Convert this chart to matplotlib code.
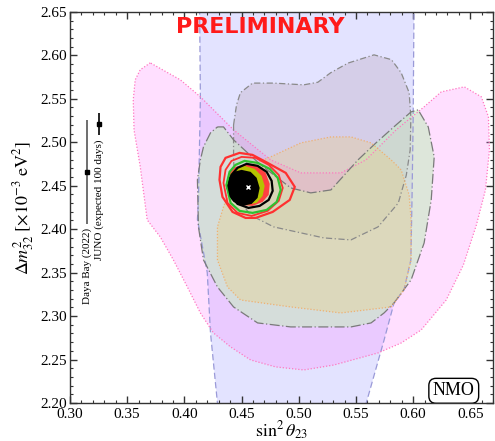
import matplotlib
matplotlib.use("Agg")
import matplotlib.pyplot as plt
from matplotlib.patches import Polygon
from matplotlib.ticker import MultipleLocator, FormatStrFormatter

plt.rcParams['font.family'] = ['Liberation Serif', 'DejaVu Serif']
plt.rcParams['mathtext.fontset'] = 'stix'

# allowed regions (sin^2 theta23, dm2_32)
blueX = [0.413, 0.414, 0.4123, 0.4114, 0.420, 0.4228, 0.4289, 0.430,
         0.557, 0.559, 0.5746, 0.5833, 0.592, 0.598, 0.599, 0.600, 0.601]
blueY = [2.70, 2.55, 2.434, 2.411, 2.35, 2.281, 2.200, 2.17,
         2.17, 2.200, 2.2725, 2.3151, 2.330, 2.3646, 2.434, 2.525, 2.70]

pinkX = [0.3702, 0.3614, 0.3570, 0.3553, 0.3560, 0.3614, 0.3675, 0.3789, 0.3904,
         0.4026, 0.4140, 0.4254, 0.4404, 0.4579, 0.4798, 0.5044, 0.5307, 0.5693,
         0.5895, 0.6070, 0.6289, 0.6439, 0.6553, 0.6632, 0.6667, 0.6658, 0.6596,
         0.6447, 0.6246, 0.6096, 0.5851, 0.5588, 0.5368, 0.5018, 0.4754, 0.4430,
         0.4140, 0.3965]
pinkY = [2.5913, 2.5833, 2.5717, 2.5487, 2.514, 2.472, 2.4106, 2.3911, 2.3646,
         2.3335, 2.3036, 2.2806, 2.2645, 2.2495, 2.2415, 2.2380, 2.2437, 2.2576,
         2.269, 2.284, 2.3185, 2.3588, 2.4049, 2.4451, 2.4912, 2.5292, 2.5522,
         2.5637, 2.5579, 2.5407, 2.5142, 2.4797, 2.4647, 2.4647, 2.4797, 2.5142,
         2.5522, 2.5717]

grayX = [0.443, 0.4456, 0.449, 0.4596, 0.478, 0.5044, 0.5167, 0.528, 0.543, 0.5658,
         0.581, 0.5895, 0.5965, 0.598, 0.5974, 0.594, 0.587, 0.5693, 0.5456, 0.5219,
         0.478, 0.458, 0.4447, 0.443]
grayY = [2.520, 2.543, 2.557, 2.568, 2.568, 2.566, 2.569, 2.580, 2.591, 2.6005,
         2.595, 2.580, 2.557, 2.529, 2.491, 2.462, 2.430, 2.4026, 2.3876, 2.3899,
         2.4026, 2.416, 2.439, 2.480]

greenX = [0.4289, 0.4342, 0.443, 0.4667, 0.493, 0.5105, 0.5281, 0.5518, 0.5675, 0.5851,
          0.5982, 0.6044, 0.6132, 0.6184, 0.6158, 0.6096, 0.5982, 0.5833, 0.5746, 0.5632,
          0.5456, 0.493, 0.464, 0.443, 0.4289, 0.4167, 0.4123, 0.4114, 0.414, 0.4167, 0.4228]
greenY = [2.5176, 2.5176, 2.5027, 2.4739, 2.4474, 2.4417, 2.4451, 2.4797, 2.4992, 2.5199,
          2.5349, 2.5372, 2.5176, 2.4831, 2.4336, 2.3841, 2.3416, 2.3151, 2.3036, 2.2921,
          2.2875, 2.2875, 2.2921, 2.3105, 2.3335, 2.3646, 2.4026, 2.4567, 2.4797, 2.4946, 2.5107]

orangeX = [0.4579, 0.4754, 0.5018, 0.5281, 0.5456, 0.5632, 0.5807, 0.5895, 0.5965, 0.5982,
           0.5982, 0.5921, 0.5807, 0.5368, 0.493, 0.4491, 0.4377, 0.4289, 0.4289, 0.4342, 0.442]
orangeY = [2.4739, 2.4831, 2.4992, 2.5061, 2.5061, 2.4992, 2.4797, 2.4682, 2.4394, 2.4106,
           2.3646, 2.3301, 2.3105, 2.3036, 2.3105, 2.3185, 2.3335, 2.3646, 2.4026, 2.4256, 2.4509]

# combined contours near best fit
redOuterX = [0.4307, 0.4316, 0.4360, 0.4482, 0.4596, 0.4711, 0.4886, 0.4965, 0.4921, 0.4772,
             0.4623, 0.4535, 0.4421, 0.4333]
redOuterY = [2.4567, 2.4716, 2.4820, 2.4877, 2.4854, 2.4774, 2.4647, 2.4486, 2.4336, 2.4198,
             2.4129, 2.4129, 2.4198, 2.4371]
redInnerX = [0.4342, 0.4360, 0.4412, 0.4500, 0.4623, 0.4737, 0.4825, 0.4860, 0.4825, 0.4728,
             0.4588, 0.4465, 0.4377]
redInnerY = [2.4532, 2.4682, 2.4785, 2.4831, 2.4820, 2.4739, 2.4624, 2.4474, 2.4325, 2.4210,
             2.4152, 2.4187, 2.4302]
greenLineX = [0.4368, 0.4395, 0.4447, 0.4526, 0.4640, 0.4746, 0.4816, 0.4842, 0.4807, 0.4719,
              0.4596, 0.4482, 0.4404]
greenLineY = [2.4509, 2.4659, 2.4739, 2.4785, 2.4762, 2.4693, 2.4590, 2.4451, 2.4313, 2.4221,
              2.4187, 2.4210, 2.4302]
blackLineX = [0.4386, 0.4412, 0.4465, 0.4544, 0.4640, 0.4719, 0.4763, 0.4772, 0.4737, 0.4658,
              0.4561, 0.4465, 0.4404]
blackLineY = [2.4497, 2.4624, 2.4705, 2.4751, 2.4728, 2.4659, 2.4555, 2.4440, 2.4336, 2.4267,
              2.4244, 2.4290, 2.4382]
redFillX = [0.4360, 0.4386, 0.4447, 0.4544, 0.4640, 0.4711, 0.4746, 0.4737, 0.4684, 0.4596,
            0.4491, 0.4412]
redFillY = [2.4497, 2.4636, 2.4716, 2.4751, 2.4728, 2.4647, 2.4521, 2.4394, 2.4313, 2.4267,
            2.4279, 2.4348]
yellowFillX = [0.4368, 0.4395, 0.4447, 0.4526, 0.4614, 0.4675, 0.4702, 0.4684, 0.4632, 0.4544,
               0.4456, 0.4395]
yellowFillY = [2.4497, 2.4624, 2.4693, 2.4728, 2.4693, 2.4613, 2.4497, 2.4382, 2.4302, 2.4279,
               2.4302, 2.4382]
blackFillX = [0.4368, 0.4386, 0.4430, 0.4500, 0.4579, 0.4632, 0.4658, 0.4640, 0.4588, 0.4509,
              0.4430, 0.4386]
blackFillY = [2.4474, 2.4590, 2.4659, 2.4682, 2.4659, 2.4590, 2.4474, 2.4359, 2.4290, 2.4267,
              2.4313, 2.4382]
bestFit = (0.456, 2.449)

# external measurements
dybX, dybY, dybErr = 0.315, 2.466, 0.060
junoX, junoY, junoErr = 0.3254, 2.521, 0.013

fig = plt.figure(figsize=(4.95, 4.41), dpi=100)
ax = fig.add_axes([0.1414, 0.0862, 0.855, 0.887])


def region(xs, ys, face, edge, dashes, lw=0.9, z=1):
    pts = list(zip(xs, ys))
    ax.add_patch(Polygon(pts, closed=True, facecolor=face, edgecolor='none', zorder=z))
    ax.add_patch(Polygon(pts, closed=True, facecolor='none', edgecolor=edge, lw=lw,
                         linestyle=(0, dashes), joinstyle='round', zorder=z + 5))


region(blueX, blueY, (0.89, 0.89, 1.0, 1.0), '#9a9ad8', (5, 2.5), z=1)
region(pinkX, pinkY, (1.0, 0.5, 1.0, 0.25), '#ff78c0', (1, 1.5), z=2)
region(grayX, grayY, (0.70, 0.60, 0.68, 0.28), '#8a8a8a', (5, 2, 1, 2), z=3)
region(greenX, greenY, (0.78, 0.92, 0.76, 0.6), '#7a7a7a', (8, 2, 1, 2), z=4)
region(orangeX, orangeY, (0.95, 0.80, 0.40, 0.25), '#f0b070', (1, 1.5), z=5)

ax.fill(redFillX, redFillY, color='#ff4040', zorder=12, lw=0)
ax.fill(yellowFillX, yellowFillY, color='#b4c400', zorder=13, lw=0)
ax.fill(blackFillX, blackFillY, color='black', zorder=14, lw=0)
ax.fill(redOuterX, redOuterY, facecolor='none', edgecolor='#ff3030', lw=1.6, zorder=15)
ax.fill(redInnerX, redInnerY, facecolor='none', edgecolor='#ff3030', lw=1.3, zorder=15)
ax.fill(greenLineX, greenLineY, facecolor='none', edgecolor='#30c030', lw=1.6, zorder=16)
ax.fill(blackLineX, blackLineY, facecolor='none', edgecolor='black', lw=1.6, zorder=17)
ax.plot(*bestFit, marker='x', color='white', ms=3, mew=1, zorder=18)

ax.errorbar([dybX], [dybY], yerr=[dybErr], fmt='s', color='#555555', mfc='black', mec='black',
            ms=3, lw=1.2, capsize=0, zorder=20)
ax.errorbar([junoX], [junoY], yerr=[junoErr], fmt='s', color='black', ms=3, lw=1.2,
            capsize=0, zorder=20)
ax.text(dybX, dybY - dybErr - 0.005, 'Daya Bay (2022)', rotation=90, ha='center',
        va='top', fontsize=8, zorder=20)
ax.text(junoX, junoY - junoErr - 0.005, 'JUNO (expected 100 days)', rotation=90,
        ha='center', va='top', fontsize=8, zorder=20)

ax.text(0.4667, 2.632, 'PRELIMINARY', color='#ff1a1a', fontsize=16, fontweight='bold',
        family='DejaVu Sans', ha='center', va='center', zorder=25)
ax.text(0.6355, 2.214, 'NMO', fontsize=13, ha='center', va='center', zorder=25,
        bbox=dict(boxstyle='round,pad=0.22,rounding_size=0.4', fc='white', ec='black', lw=1))

ax.set_xlim(0.30, 0.67)
ax.set_ylim(2.20, 2.65)
ax.xaxis.set_major_locator(MultipleLocator(0.05))
ax.xaxis.set_minor_locator(MultipleLocator(0.01))
ax.yaxis.set_major_locator(MultipleLocator(0.05))
ax.yaxis.set_minor_locator(MultipleLocator(0.01))
ax.xaxis.set_major_formatter(FormatStrFormatter('%.2f'))
ax.yaxis.set_major_formatter(FormatStrFormatter('%.2f'))
ax.tick_params(which='both', direction='in', top=True, right=True, color='#333333',
               labelsize=11)
ax.tick_params(axis='x', which='major', pad=3.5)
ax.tick_params(axis='y', which='major', pad=2)
ax.tick_params(which='major', length=5, width=1)
ax.tick_params(which='minor', length=2.5, width=0.8)
for s in ax.spines.values():
    s.set_color('#333333')
    s.set_linewidth(1)
    s.set_zorder(30)

ax.set_xlabel(r'$\sin^2\theta_{23}$', fontsize=13, labelpad=-1)
ax.set_ylabel(r'$\Delta m^2_{32}\ [\times 10^{-3}\ \mathrm{eV}^2]$', fontsize=13, labelpad=3)

fig.savefig('out.png', dpi=100)
